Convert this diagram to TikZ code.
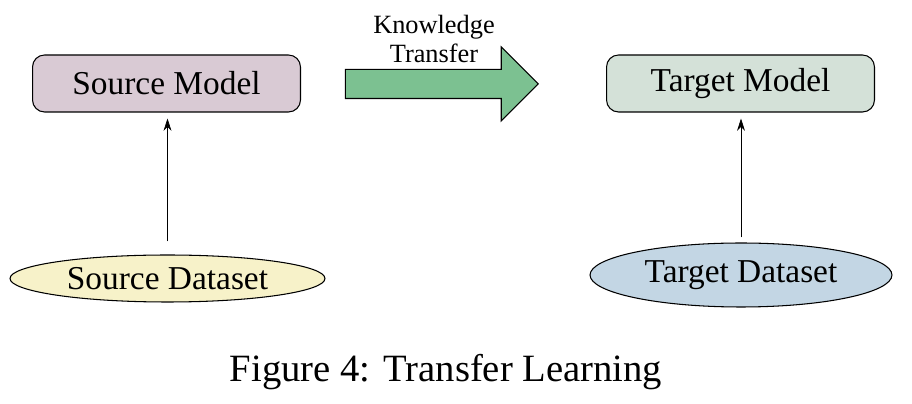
\documentclass[tikz,border=0pt]{standalone}
\usepackage{fontspec}
\setmainfont{Liberation Serif}
\usetikzlibrary{shapes,shapes.arrows,arrows.meta,positioning}

\definecolor{modelsrc}{HTML}{D9CAD4}
\definecolor{modeltgt}{HTML}{D4E1D8}
\definecolor{datasrc}{HTML}{F7F2C9}
\definecolor{datatgt}{HTML}{C3D6E4}
\definecolor{transfer}{HTML}{7CC191}

\tikzset{
  modelbox/.style={draw, line width=0.6pt, rounded corners=0.24cm, inner sep=0pt,
    minimum width=5.36cm, minimum height=1.14cm, font=\fontsize{19}{22}\selectfont},
  databox/.style={draw, ellipse, line width=0.6pt, inner sep=0pt,
    font=\fontsize{19}{22}\selectfont},
}

\begin{document}
\begin{tikzpicture}[x=0.02cm, y=-0.02cm, >={Stealth[length=7pt, width=4.5pt]}]
	\useasboundingbox (0,0) rectangle (912,404);
	% Models
	\node[modelbox, fill=modelsrc] (sm) at (166.5, 83.5) {Source Model};
	\node[modelbox, fill=modeltgt] (tm) at (740.5, 83.5) {Target Model};
	
	% Datasets
	\node[databox, fill=datasrc, minimum width=6.3cm, minimum height=0.94cm] (sd) at (167.5, 278.5) {Source Dataset};
	\node[databox, fill=datatgt, minimum width=6.04cm, minimum height=1.28cm] (td) at (741, 275) {Target Dataset};
	
	\draw[->, shorten <=0.26cm, shorten >=0.12cm] (sd.north) -- (sd.north |- sm.south);
	\draw[->, shorten <=0.1cm, shorten >=0.12cm] (td.north) -- (td.north |- tm.south);
	
	% Knowledge transfer arrow
	\node[single arrow, draw, line width=0.6pt, fill=transfer, inner xsep=0pt, inner ysep=0.28cm,
		minimum height=3.86cm, single arrow head extend=0.45cm, single arrow tip angle=90]
		(kt) at (434.5, 84) {};
	\node[align=center, font=\fontsize{15}{16}\selectfont] (ktl) at (434, 39) {Knowledge\\Transfer};
	
	% Caption
	\node[font=\fontsize{22}{26}\selectfont] (cap) at (446, 372) {Figure 4: Transfer Learning};
\end{tikzpicture}
\end{document}
